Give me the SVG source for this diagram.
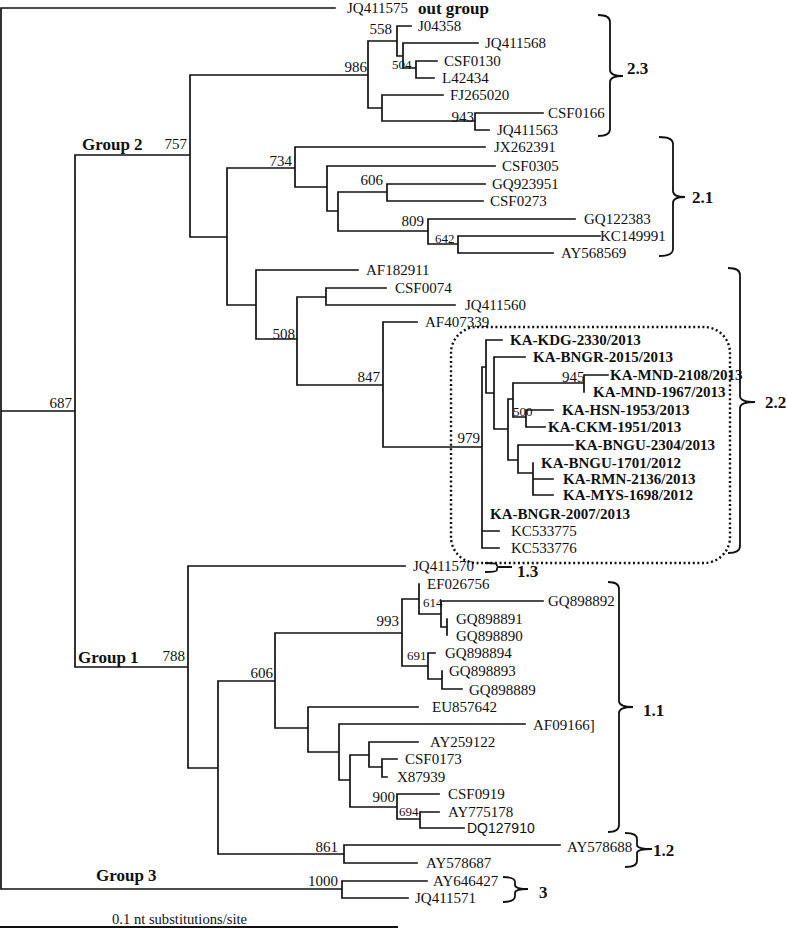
<svg xmlns="http://www.w3.org/2000/svg" width="787" height="928" viewBox="0 0 787 928">
<style>
.b{fill:none;stroke:#111;stroke-width:1.7;stroke-linecap:square}
text{font-family:"Liberation Serif","Times New Roman",serif;fill:#111;font-size:15px}
.k{font-weight:bold}
.g{font-weight:bold;font-size:17px}
.s{font-size:13px}
.e{text-anchor:end}
.br{fill:none;stroke:#111;stroke-width:1.8}
</style>
<rect width="787" height="928" fill="#fff"/>
<g id="connectors">
<path class="b" d="M1,8V889M1,8H335M1,411H75M1,889H342
M75,155V667M75,155H190M75,667H188
M190,75V237M190,75H368M190,237H227
M227,168V305M227,168H295M227,305H256
M368,41V108M368,41H397M368,108H382
M397,26V56M397,26H411M397,56H403
M403,43V68M403,43H478M403,68H416
M416,61V78M416,61H437M416,78H434
M382,95V121M382,95H443M382,121H475
M475,113V130M475,113H543M475,130H489
M295,147V187M295,147H485M295,187H327
M327,166V211M327,166H495M327,211H338
M338,192V231M338,192H387M338,231H428
M387,184V201M387,184H485M387,201H483
M428,219V244M428,219H575M428,244H458
M458,236V253M458,236H600M458,253H553
M256,270V339M256,270H358M256,339H297
M297,297V385M297,297H326M297,385H383
M326,288V305M326,288H386M326,305H455
M383,322V447M383,322H417M383,447H482
M482,367V548M482,367H486M482,531H499M482,548H499
M486,340V393M486,340H502M486,393H494
M494,357V429M494,357H525M494,429H508
M508,399V460M508,399H513M508,460H518
M513,383V417M513,383H584M513,417H526
M584,375V392M584,375H608
M526,410V427M526,410H553M526,427H545
M518,445V473M518,445H573M518,473H533
M533,463V495M533,479H553M533,495H553
M188,566V768M188,566H405M188,768H218
M218,681V854M218,681H275M218,854H344
M275,633V728M275,633H402M275,728H308
M402,599V666M402,599H419M402,666H428
M419,584V614M419,614H441
M441,601V627M441,601H543M441,627H447
M447,619V635
M428,653V679M428,653H435M428,679H442
M442,671V689M442,689H462
M308,707V752M308,707H418M308,752H339
M339,724V780M339,724H525M339,780H350
M350,755V807M350,755H369M350,807H397
M369,742V767M369,742H418M369,767H382
M382,759V777M382,759H397M382,777H387
M397,794V819M397,794H439M397,819H420
M420,812V828M420,812H439M420,828H464
M344,845V863M344,845H560M344,863H417
M342,881V898M342,881H427M342,898H408"/>
<path d="M0,927H398" stroke="#111" stroke-width="2.2"/>
</g>
<g id="kd-box"><rect x="451" y="327" width="279" height="236" rx="26" fill="none" stroke="#111" stroke-width="2.4" stroke-dasharray="2 2.6"/></g>
<g id="brackets">
<path class="br" d="M598,15Q610,15 610,22V70Q610,76 623,76Q610,76 610,82V129Q610,136 598,136"/>
<path class="br" d="M659,137Q673,137 673,144V191Q673,197 685,197Q673,197 673,203V249Q673,256 659,256"/>
<path class="br" d="M728,268Q740,268 740,275V396Q740,402 755,402Q740,402 740,408V546Q740,553 728,553"/>
<path class="br" d="M608,582Q619,582 619,589V701Q619,707 633,707Q619,707 619,713V825Q619,832 608,832"/>
<path class="br" d="M625,833Q637,833 637,839V845Q637,849 652,849Q637,849 637,853V861Q637,867 625,867"/>
<path class="br" d="M485,563Q497,563 497,565V566Q497,567 512,567Q497,567 497,568V570Q497,572 485,572"/>
<path class="br" d="M503,877Q515,877 515,882V885Q515,889 528,889Q515,889 515,893V896Q515,902 503,902"/>
</g>
<g id="outgroup"><text x="347" y="13">JQ411575</text><text class="g" x="418" y="14">out group</text></g>
<g id="clade-2-3">
<text x="418" y="31">J04358</text>
<text x="485" y="48">JQ411568</text>
<text x="444" y="66">CSF0130</text>
<text x="442" y="83">L42434</text>
<text x="450" y="100">FJ265020</text>
<text x="548" y="118">CSF0166</text>
<text x="497" y="135">JQ411563</text>
<text class="g" x="627" y="74">2.3</text>
</g>
<g id="clade-2-1">
<text x="494" y="152">JX262391</text>
<text x="502" y="171">CSF0305</text>
<text x="492" y="189">GQ923951</text>
<text x="490" y="206">CSF0273</text>
<text x="584" y="224">GQ122383</text>
<text x="600" y="241">KC149991</text>
<text x="561" y="258">AY568569</text>
<text class="g" x="692" y="203">2.1</text>
</g>
<g id="clade-2-2">
<text x="366" y="275">AF182911</text>
<text x="395" y="293">CSF0074</text>
<text x="465" y="310">JQ411560</text>
<text x="425" y="327">AF407339</text>
<text class="k" x="510" y="345">KA-KDG-2330/2013</text>
<text class="k" x="533" y="362">KA-BNGR-2015/2013</text>
<text class="k" x="610" y="380">KA-MND-2108/2013</text>
<text class="k" x="593" y="397">KA-MND-1967/2013</text>
<text class="k" x="562" y="415">KA-HSN-1953/2013</text>
<text class="k" x="548" y="432">KA-CKM-1951/2013</text>
<text class="k" x="575" y="450">KA-BNGU-2304/2013</text>
<text class="k" x="541" y="468">KA-BNGU-1701/2012</text>
<text class="k" x="563" y="484">KA-RMN-2136/2013</text>
<text class="k" x="563" y="500">KA-MYS-1698/2012</text>
<text class="k" x="490" y="519">KA-BNGR-2007/2013</text>
<text x="511" y="536">KC533775</text>
<text x="511" y="553">KC533776</text>
<text class="g" x="765" y="408">2.2</text>
</g>
<g id="clade-1-3"><text x="413" y="571">JQ411570</text><text class="g" x="517" y="577">1.3</text></g>
<g id="clade-1-1">
<text x="427" y="589">EF026756</text>
<text x="548" y="606">GQ898892</text>
<text x="456" y="624">GQ898891</text>
<text x="456" y="641">GQ898890</text>
<text x="445" y="658">GQ898894</text>
<text x="449" y="676">GQ898893</text>
<text x="469" y="695">GQ898889</text>
<text x="432" y="712">EU857642</text>
<text x="533" y="730">AF09166]</text>
<text x="430" y="747">AY259122</text>
<text x="405" y="764">CSF0173</text>
<text x="397" y="782">X87939</text>
<text x="448" y="799">CSF0919</text>
<text x="448" y="817">AY775178</text>
<text x="467" y="833" style="font-family:'Liberation Sans',Arial,sans-serif;font-size:14px">DQ127910</text>
<text class="g" x="643" y="716">1.1</text>
</g>
<g id="clade-1-2"><text x="567" y="852">AY578688</text><text x="426" y="868">AY578687</text><text class="g" x="653" y="856">1.2</text></g>
<g id="clade-3"><text x="433" y="886">AY646427</text><text x="415" y="903">JQ411571</text><text class="g" x="539" y="898">3</text></g>
<g id="groups">
<text class="g" x="82" y="150">Group 2</text>
<text class="g" x="78" y="663">Group 1</text>
<text class="g" x="96" y="881">Group 3</text>
</g>
<g id="bootstrap">
<text class="e" x="72" y="408">687</text>
<text class="e" x="187" y="149">757</text>
<text class="e" x="367" y="72">986</text>
<text class="e" x="392" y="34">558</text>
<text class="s" x="392" y="69">504</text>
<text class="e" x="474" y="122">943</text>
<text class="e" x="292" y="166">734</text>
<text class="e" x="383" y="185">606</text>
<text class="e" x="424" y="226">809</text>
<text class="s" x="435" y="243">642</text>
<text class="e" x="295" y="339">508</text>
<text class="e" x="380" y="382">847</text>
<text class="e" x="480" y="443">979</text>
<text x="562" y="382">945</text>
<text class="s" x="513" y="416">500</text>
<text class="e" x="185" y="661">788</text>
<text class="e" x="273" y="678">606</text>
<text class="e" x="399" y="626">993</text>
<text class="s" x="423" y="607">614</text>
<text class="s" x="407" y="660">691</text>
<text class="e" x="395" y="802">900</text>
<text class="s" x="399" y="816">694</text>
<text class="e" x="338" y="852">861</text>
<text class="e" x="338" y="886">1000</text>
</g>
<g id="scale"><text x="112" y="924" style="font-size:14.6px">0.1 nt substitutions/site</text></g>
</svg>
